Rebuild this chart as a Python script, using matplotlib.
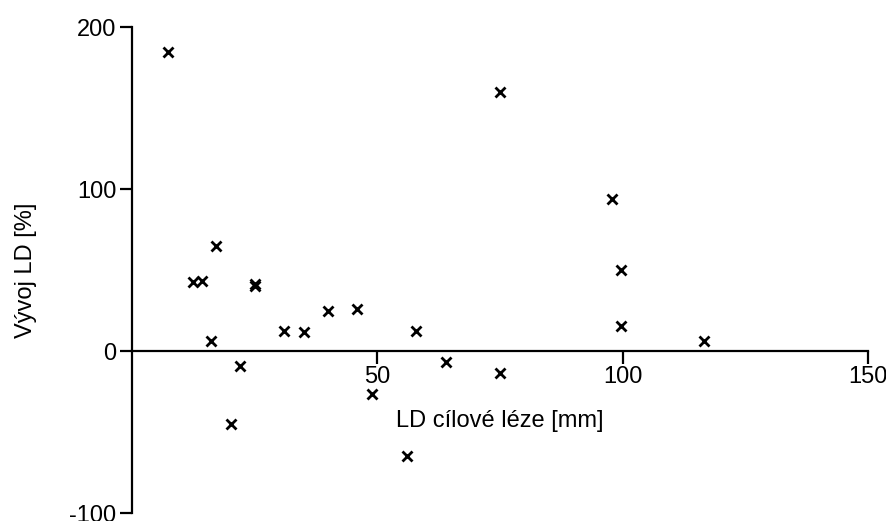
import matplotlib
matplotlib.use("Agg")
import matplotlib.pyplot as plt

plt.rcParams['font.family'] = ['Liberation Sans', 'DejaVu Sans']
plt.rcParams['axes.unicode_minus'] = False

# LD of target lesion [mm] vs change of LD [%]
ld_mm = [7.4, 12.5, 14.4, 17.2, 16.2, 22.1, 20.3, 25.2, 25.2, 31.1, 35.1,
         40.0, 45.9, 49.0, 56.1, 57.9, 64.1, 75.1, 75.1, 97.9, 99.7, 99.7, 116.6]
change_pct = [184.6, 42.5, 43.5, 64.8, 6.2, -9.3, -45.0, 40.3, 41.3, 12.3, 11.7,
              24.7, 25.9, -26.5, -65.0, 12.3, -6.8, 160.0, -13.6, 94.0, 50.0, 15.4, 6.2]

x_ticks = [50, 100, 150]
y_ticks = [-100, 0, 100, 200]

fig = plt.figure(figsize=(8.86, 5.21), dpi=100)
ax = fig.add_axes([131.5/886, 8/521, 736.5/886, 486/521])

ax.plot(ld_mm, change_pct, 'x', color='black', ms=7, mew=2, clip_on=False)

ax.set_xlim(0, 150)
ax.set_ylim(-100, 200)
ax.set_xticks(x_ticks)
ax.set_yticks(y_ticks)

for s in ['top', 'right']:
    ax.spines[s].set_visible(False)
ax.spines['bottom'].set_position(('data', 0))
for s in ['left', 'bottom']:
    ax.spines[s].set_linewidth(1.6)

ax.tick_params(axis='both', length=9, width=1.6, labelsize=17, pad=2, color='black')

ax.set_xlabel("LD cílové léze [mm]", fontsize=17)
ax.xaxis.set_label_coords(0.5, 0.212)
ax.set_ylabel("Vývoj LD [%]", fontsize=17)
ax.yaxis.set_label_coords(-0.128, 0.5)

fig.savefig("out.png", dpi=100)
